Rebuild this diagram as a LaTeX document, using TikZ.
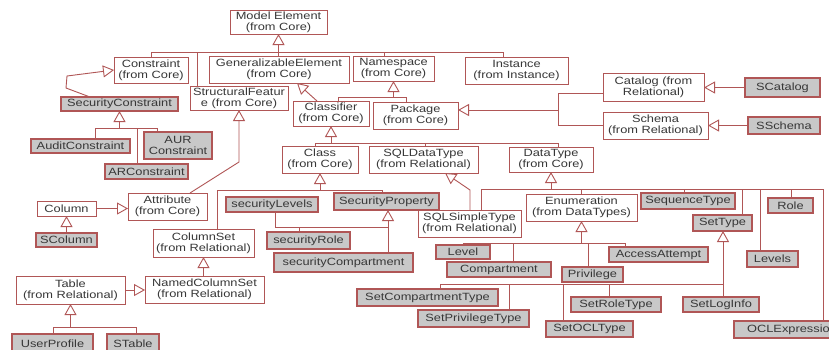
\documentclass[tikz,border=0pt]{standalone}
\usepackage{fontspec}
\newfontfamily\diag[FakeStretch=1.22]{Liberation Sans}
\usetikzlibrary{arrows.meta}
\definecolor{edge}{RGB}{176,86,86}
\definecolor{boxgray}{RGB}{200,200,200}
\definecolor{txt}{RGB}{55,55,55}
\tikzset{
 base/.style={draw=edge, inner sep=0pt, outer sep=0pt, align=center, text=txt, font=\diag\fontsize{10.5}{11}\selectfont},
 wbox/.style={base, fill=white, line width=1pt},
 gbox/.style={base, fill=boxgray, line width=1.3pt},
 ln/.style={draw=edge, line width=0.9pt},
 ar/.style={ln, -{Triangle[length=11pt,width=12pt,fill=white]}},
}
\newcommand{\bx}[7]{\node[#1, minimum width={#5pt-#3pt}, minimum height={#6pt-#4pt}] (#2) at ({(#3+#5)/2},{(#4+#6)/2}) {#7};}
\begin{document}
\begin{tikzpicture}[x=1pt,y=-1pt]
\fill[white] (0,0) rectangle (829,349);
\useasboundingbox (0,0) rectangle (829,349);
% nodes
\bx{wbox}{ME}{230}{10}{327}{34}{Model Element\\(from Core)}
\bx{wbox}{Con}{114}{57}{188}{83}{Constraint\\(from Core)}
\bx{wbox}{GE}{209}{56}{349}{83}{GeneralizableElement\\(from Core)}
\bx{wbox}{NS}{353}{56}{434}{81}{Namespace\\(from Core)}
\bx{wbox}{Inst}{465}{57}{568}{84}{Instance\\(from Instance)}
\bx{wbox}{SF}{190}{86}{288}{110}{StructuralFeatur\\e (from Core)}
\bx{gbox}{SC}{61}{97}{178}{111}{SecurityConstraint}
\bx{gbox}{AC}{31}{139}{130}{153}{AuditConstraint}
\bx{gbox}{AUR}{144}{132}{212}{159}{AUR\\Constraint}
\bx{gbox}{ARC}{105}{164}{188}{179}{ARConstraint}
\bx{wbox}{Cl}{293}{101}{369}{126}{Classifier\\(from Core)}
\bx{wbox}{Pk}{373}{102}{458}{129}{Package\\(from Core)}
\bx{wbox}{Cat}{603}{73}{704}{101}{Catalog (from\\Relational)}
\bx{wbox}{Sch}{603}{112}{708}{139}{Schema\\(from Relational)}
\bx{gbox}{SCat}{745}{78}{820}{97}{SCatalog}
\bx{gbox}{SSch}{748}{117}{820}{134}{SSchema}
\bx{wbox}{Cls}{282}{146}{358}{173}{Class\\(from Core)}
\bx{wbox}{SQD}{369}{146}{478}{173}{SQLDataType\\(from Relational)}
\bx{wbox}{DT}{509}{147}{593}{172}{DataType\\(from Core)}
\bx{wbox}{Att}{128}{193}{207}{220}{Attribute\\(from Core)}
\bx{wbox}{Col}{37}{201}{96}{216}{Column}
\bx{gbox}{SCol}{36}{233}{97}{247}{SColumn}
\bx{gbox}{SL}{226}{197}{318}{212}{securityLevels}
\bx{gbox}{SP}{334}{193}{439}{210}{SecurityProperty}
\bx{gbox}{SR}{267}{232}{350}{249}{securityRole}
\bx{gbox}{SCo}{274}{253}{413}{272}{securityCompartment}
\bx{wbox}{CS}{153}{229}{254}{257}{ColumnSet\\(from Relational)}
\bx{wbox}{NCS}{145}{276}{264}{303}{NamedColumnSet\\(from Relational)}
\bx{wbox}{Tb}{16}{276}{125}{304}{Table\\(from Relational)}
\bx{gbox}{UP}{12}{334}{93}{353}{UserProfile}
\bx{gbox}{ST}{107}{334}{159}{353}{STable}
\bx{wbox}{SST}{418}{210}{521}{237}{SQLSimpleType\\(from Relational)}
\bx{wbox}{Enum}{526}{194}{637}{221}{Enumeration\\(from DataTypes)}
\bx{gbox}{SeqT}{641}{193}{735}{209}{SequenceType}
\bx{gbox}{SetT}{693}{215}{752}{231}{SetType}
\bx{gbox}{Role}{768}{198}{813}{213}{Role}
\bx{gbox}{Lvs}{747}{251}{798}{267}{Levels}
\bx{gbox}{OCL}{734}{321}{850}{338}{OCLExpression}
\bx{gbox}{Lv}{436}{245}{490}{259}{Level}
\bx{gbox}{Cmp}{447}{262}{551}{277}{Compartment}
\bx{gbox}{AA}{609}{247}{708}{262}{AccessAttempt}
\bx{gbox}{Pv}{562}{267}{623}{282}{Privilege}
\bx{gbox}{SCT}{357}{289}{498}{306}{SetCompartmentType}
\bx{gbox}{SPT}{418}{310}{529}{327}{SetPrivilegeType}
\bx{gbox}{SOT}{546}{321}{633}{337}{SetOCLType}
\bx{gbox}{SRT}{571}{297}{661}{312}{SetRoleType}
\bx{gbox}{SLI}{683}{297}{759}{312}{SetLogInfo}
% junction coordinates
\coordinate (j1) at (151,52); \coordinate (j2) at (503,52);
\coordinate (j3) at (197,52); \coordinate (j4) at (384,52);
\coordinate (j5) at (95,128); \coordinate (j6) at (157,128); \coordinate (j7) at (137,128);
\coordinate (j8) at (217,190); \coordinate (j9) at (382,190);
\coordinate (j10) at (275,227); \coordinate (j11) at (388,227); \coordinate (j12) at (299,227);
\coordinate (j13) at (338,97); \coordinate (j14) at (406,97);
\coordinate (j15) at (558,110); \coordinate (j16) at (558,93); \coordinate (j17) at (558,125);
\coordinate (j18) at (315,143); \coordinate (j19) at (558,143); \coordinate (j20) at (425,143);
\coordinate (j21) at (481,189); \coordinate (j22) at (823,189);
\coordinate (j23) at (463,243); \coordinate (j24) at (625,243);
\coordinate (j26) at (440,284); \coordinate (j25) at (723,284);
\coordinate (j27) at (53,327); \coordinate (j28) at (136,327);
% Model Element tree
\draw[ln] (Con.north -| j1) -- (j1) -- (j2) -- (Inst.north -| j2);
\draw[ln] (j3) -- (SF.north -| j3);
\draw[ln] (j4) -- (NS.north -| j4);
\draw[ar] (ME.south |- GE.north) -- (ME.south);
% Constraint
\draw[ar] (SC.north -| 90,0) -- (66,88) -- (67,76) -- (Con.west);
\draw[ar] (SC.south |- j5) -- (SC.south);
\draw[ln] (AC.north -| j5) -- (j5) -- (j6) -- (AUR.north -| j6);
\draw[ln] (j7) -- (ARC.north -| j7);
% StructuralFeature
\draw[ar] (Att.north -| 190,0) -- (SF.south |- 0,162) -- (SF.south);
\draw[ar] (Col.east) -- (Col.east -| Att.west);
\draw[ar] (SCol.north -| Col.south) -- (Col.south);
% Namespace
\draw[ar] (NS.south |- j13) -- (NS.south);
\draw[ln] (Cl.north -| j13) -- (j13) -- (j14) -- (Pk.north -| j14);
\draw[ar] (Cl.north -| 317,0) -- (GE.south -| 297,0);
% Package
\draw[ar] (j15) -- (Pk.east |- j15);
\draw[ln] (Cat.west |- j16) -- (j16) -- (j17) -- (Sch.west |- j17);
\draw[ar] (SCat.west) -- (SCat.west -| Cat.east);
\draw[ar] (SSch.west) -- (SSch.west -| Sch.east);
% Classifier
\draw[ar] (Cl.south |- j18) -- (Cl.south);
\draw[ln] (Cls.north -| j18) -- (j18) -- (j19) -- (DT.north -| j19);
\draw[ln] (j20) -- (SQD.north -| j20);
% Class
\draw[ar] (Cls.south |- j8) -- (Cls.south);
\draw[ln] (CS.north -| j8) -- (j8) -- (j9) -- (SP.north -| j9);
% SecurityProperty
\draw[ar] (SCo.north -| j11) -- (SP.south -| j11);
\draw[ln] (SL.south -| j10) -- (j10) -- (j11);
\draw[ln] (j12) -- (SR.north -| j12);
% SQLSimpleType
\draw[ar] (SST.north -| 470,0) -- (470,190) -- (SQD.south -| 445,0);
% DataType
\draw[ar] (DT.south |- j21) -- (DT.south);
\draw[ln] (SST.north -| j21) -- (j21) -- (j22) -- (OCL.north -| j22);
\draw[ln] (Enum.north |- j21) -- (Enum.north);
\draw[ln] (684,189) -- (SeqT.north -| 684,0);
\draw[ln] (742,189) -- (SetT.north -| 742,0);
\draw[ln] (760,189) -- (Lvs.north -| 760,0);
\draw[ln] (791,189) -- (Role.north -| 791,0);
% Enumeration
\draw[ar] (Enum.south |- j23) -- (Enum.south);
\draw[ln] (Lv.north -| j23) -- (j23) -- (j24) -- (AA.north -| j24);
\draw[ln] (513,243) -- (Cmp.north -| 513,0);
\draw[ln] (588,243) -- (Pv.north -| 588,0);
% SetType
\draw[ar] (SLI.north -| j25) -- (j25) -- (SetT.south -| j25);
\draw[ln] (SCT.north -| j26) -- (j26) -- (j25);
\draw[ln] (509,284) -- (SPT.north -| 509,0);
\draw[ln] (563,284) -- (SOT.north -| 563,0);
\draw[ln] (609,284) -- (SRT.north -| 609,0);
% Relational columns / tables
\draw[ar] (NCS.north -| CS.south) -- (CS.south);
\draw[ar] (Tb.east) -- (Tb.east -| NCS.west);
\draw[ar] (Tb.south |- j27) -- (Tb.south);
\draw[ln] (UP.north -| j27) -- (j27) -- (j28) -- (ST.north -| j28);
\end{tikzpicture}
\end{document}
